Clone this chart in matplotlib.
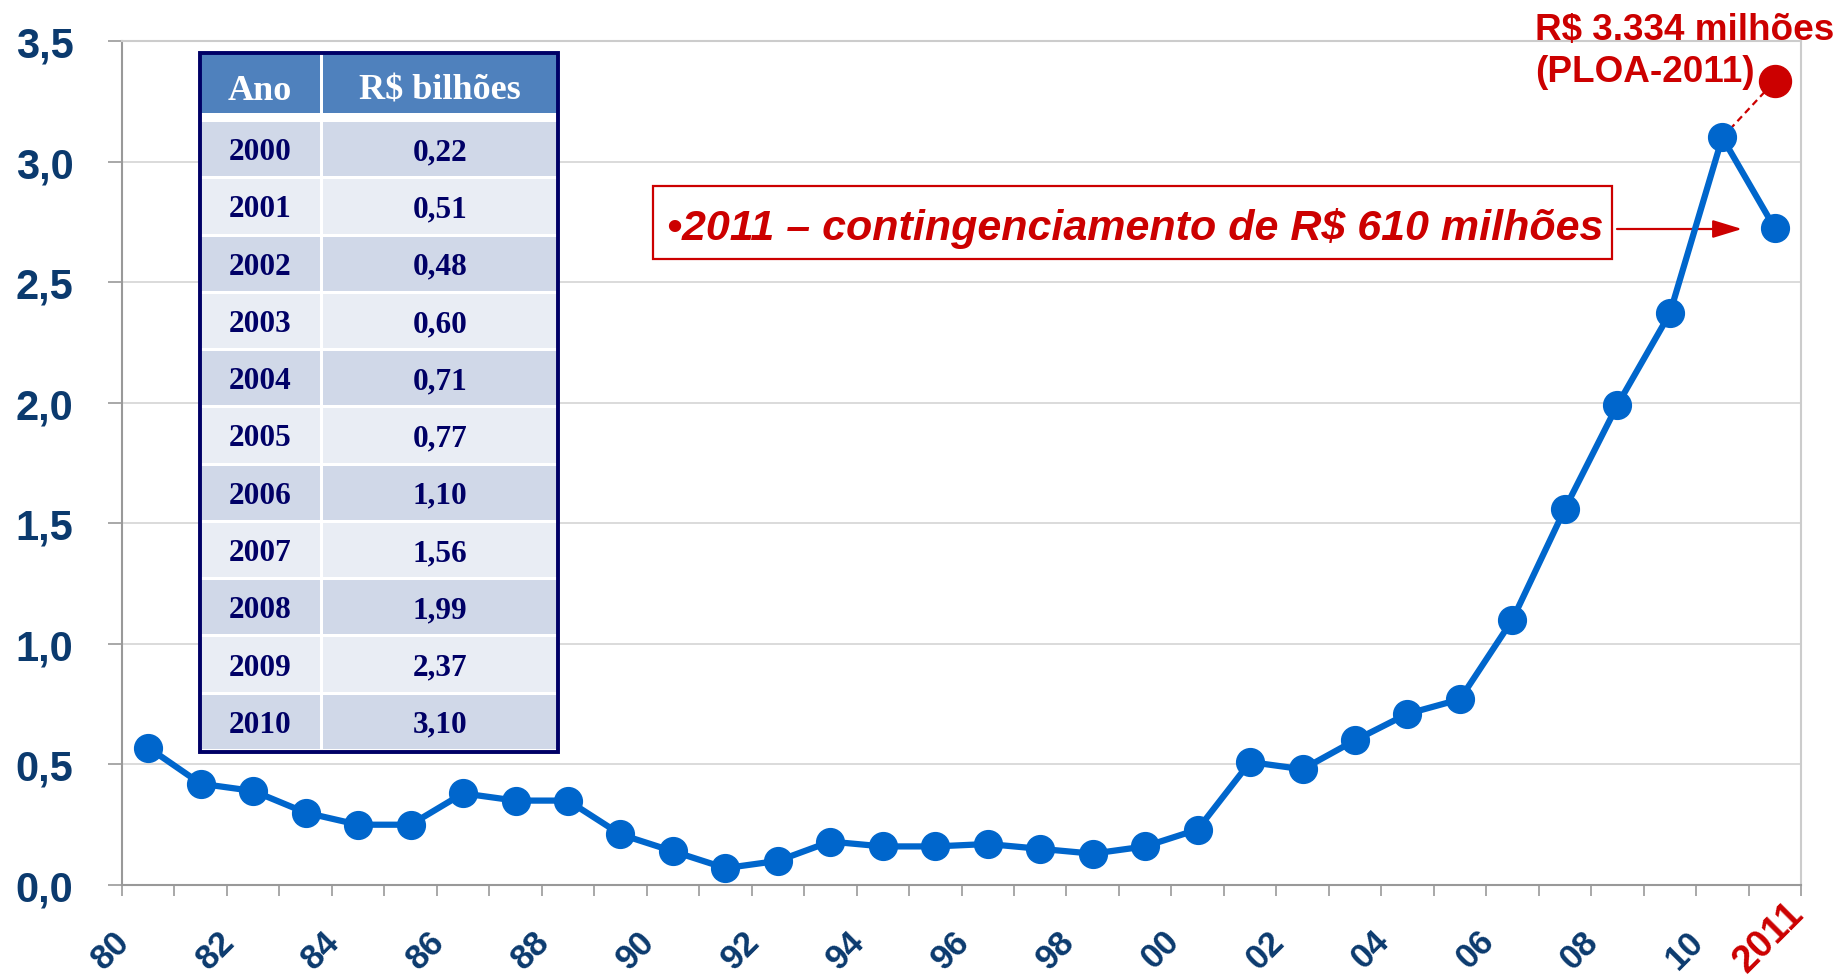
#!/usr/bin/env python3
"""Evolução anual em R$ bilhões, 1980-2011, com tabela 2000-2010."""

import matplotlib

matplotlib.use("Agg")
import matplotlib.pyplot as plt
from matplotlib.patches import Rectangle
from matplotlib.transforms import ScaledTranslation

ANOS = list(range(1980, 2012))
VALORES = [0.57, 0.42, 0.39, 0.30, 0.25, 0.25, 0.38, 0.35, 0.35, 0.21,
           0.14, 0.07, 0.10, 0.18, 0.16, 0.16, 0.17, 0.15, 0.13, 0.16,
           0.23, 0.51, 0.48, 0.60, 0.71, 0.77, 1.10, 1.56, 1.99, 2.37,
           3.10, 2.724]
PLOA_2011 = 3.334

TABELA_ANOS = ["2000", "2001", "2002", "2003", "2004", "2005",
               "2006", "2007", "2008", "2009", "2010"]
TABELA_VALORES = ["0,22", "0,51", "0,48", "0,60", "0,71", "0,77",
                  "1,10", "1,56", "1,99", "2,37", "3,10"]

Y_TICKS = [0.0, 0.5, 1.0, 1.5, 2.0, 2.5, 3.0, 3.5]
Y_LABELS = ["0,0", "0,5", "1,0", "1,5", "2,0", "2,5", "3,0", "3,5"]
X_LABELS = ["80", "82", "84", "86", "88", "90", "92", "94",
            "96", "98", "00", "02", "04", "06", "08", "10"]

AZUL = "#0066CC"
VERMELHO = "#CC0000"
AZUL_ESCURO = "#0b3a6e"
MARINHO = "#000066"

W, H = 1841, 978


def fx(px):
    return px / W


def fy(py):
    return 1 - py / H


def desenha_tabela(fig):
    tab = fig.add_axes([fx(200), fy(753), 358 / W, 699 / H])
    tab.set_xlim(0, 358)
    tab.set_ylim(699, 0)
    tab.axis("off")
    tab.add_patch(Rectangle((0, 0), 358, 699, facecolor="white", edgecolor="none"))

    # cabeçalho
    tab.add_patch(Rectangle((0, 0), 120, 60, facecolor="#4F81BD", edgecolor="none"))
    tab.add_patch(Rectangle((123, 0), 235, 60, facecolor="#4F81BD", edgecolor="none"))
    serif = dict(family="Liberation Serif", fontweight="bold", ha="center", va="baseline")
    tab.text(60, 46, "Ano", color="white", fontsize=26, **serif)
    tab.text(240, 46, "R$ bilhões", color="white", fontsize=26, **serif)

    passo = (699 - 69) / len(TABELA_ANOS)
    for i, (ano, valor) in enumerate(zip(TABELA_ANOS, TABELA_VALORES)):
        y0 = 69 + i * passo
        h = passo - 3
        cor = "#D0D8E8" if i % 2 == 0 else "#E9EDF4"
        tab.add_patch(Rectangle((0, y0), 120, h, facecolor=cor, edgecolor="none"))
        tab.add_patch(Rectangle((123, y0), 235, h, facecolor=cor, edgecolor="none"))
        tab.text(60, y0 + h / 2 + 10, ano, color=MARINHO, fontsize=22.5, **serif)
        tab.text(240, y0 + h / 2 + 10, valor, color=MARINHO, fontsize=22.5, **serif)

    tab.add_patch(Rectangle((0, 0), 358, 699, fill=False, edgecolor=MARINHO,
                            lw=2.8, clip_on=False))


def main() -> None:
    plt.rcParams["font.family"] = ["Liberation Sans", "DejaVu Sans"]
    fig = plt.figure(figsize=(W / 100, H / 100), dpi=100)
    ax = fig.add_axes([fx(122), fy(886), (1801 - 122) / W, (886 - 42) / H])

    xs = list(range(len(ANOS)))
    ax.plot(xs, VALORES, color=AZUL, lw=4.5, marker="o", ms=20, zorder=4, clip_on=False)
    ax.plot([xs[-2], xs[-1]], [VALORES[-2], PLOA_2011], ls=(0, (3, 2)),
            color=VERMELHO, lw=1.6, zorder=3, clip_on=False)
    ax.plot([xs[-1]], [PLOA_2011], "o", color=VERMELHO, ms=23, zorder=5, clip_on=False)

    ax.set_xlim(-0.5, len(ANOS) - 0.5)
    ax.set_ylim(0, 3.5)

    ax.set_yticks(Y_TICKS, Y_LABELS)
    ax.tick_params(axis="y", length=10, width=1.2, color="#999999", pad=25,
                   labelsize=30, labelcolor=AZUL_ESCURO)
    for lbl in ax.get_yticklabels():
        lbl.set_fontweight("bold")

    ax.set_xticks([i - 0.5 for i in range(len(ANOS) + 1)])
    ax.set_xticklabels([])
    ax.tick_params(axis="x", which="major", length=8, width=1.2, color="#999999")
    ax.set_xticks(xs[:-1:2], X_LABELS, minor=True)
    ax.tick_params(axis="x", which="minor", length=0, pad=28,
                   labelsize=25, labelcolor=AZUL_ESCURO)
    desloc = ScaledTranslation(-12 / 100, 0, fig.dpi_scale_trans)
    for lbl in ax.get_xticklabels(minor=True):
        lbl.set_rotation(45)
        lbl.set_ha("right")
        lbl.set_va("top")
        lbl.set_fontweight("bold")
        lbl.set_transform(lbl.get_transform() + desloc)

    ax.annotate("2011", xy=(xs[-1], 0), xytext=(-4, -37), textcoords="offset points",
                rotation=45, ha="center", va="center", fontsize=27.5,
                fontweight="bold", color=VERMELHO, annotation_clip=False)

    ax.yaxis.grid(True, color="#d4d4d4", lw=1.2)
    ax.set_axisbelow(True)
    for lado in ("left", "bottom"):
        ax.spines[lado].set_color("#999999")
        ax.spines[lado].set_linewidth(1.5)
    for lado in ("top", "right"):
        ax.spines[lado].set_color("#cccccc")
        ax.spines[lado].set_linewidth(1.5)

    desenha_tabela(fig)

    # caixa do contingenciamento
    fig.add_artist(Rectangle((fx(653), fy(260)), (1612 - 653) / W, (260 - 187) / H,
                             transform=fig.transFigure, fill=False,
                             edgecolor=VERMELHO, lw=1.6))
    fig.text(fx(667), fy(240), "•2011 – contingenciamento de R$ 610 milhões",
             ha="left", va="baseline", fontsize=31, fontweight="bold",
             fontstyle="italic", color=VERMELHO)
    ax.annotate("", xy=(fx(1742), fy(230)), xytext=(fx(1617), fy(230)),
                xycoords="figure fraction", textcoords="figure fraction",
                arrowprops=dict(arrowstyle="-|>,head_length=1.8,head_width=0.55",
                                color=VERMELHO, lw=1.6, shrinkA=0, shrinkB=0))

    fig.text(fx(1535), fy(40), "R$ 3.334 milhões", ha="left", va="baseline",
             fontsize=26.6, fontweight="bold", color=VERMELHO)
    fig.text(fx(1535), fy(82), "(PLOA-2011)", ha="left", va="baseline",
             fontsize=26.6, fontweight="bold", color=VERMELHO)

    fig.savefig("out.png", dpi=100)
    plt.close(fig)


if __name__ == "__main__":
    main()
